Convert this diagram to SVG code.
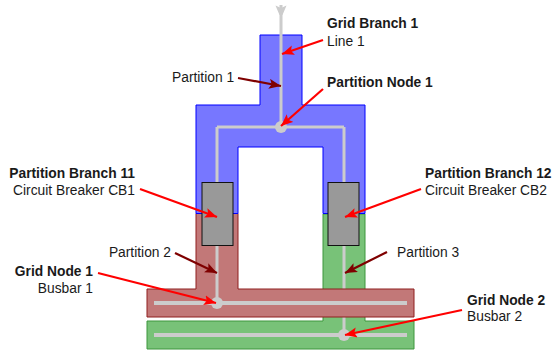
<svg xmlns="http://www.w3.org/2000/svg" width="554" height="352" viewBox="0 0 554 352">
<style>
text{font-family:"Liberation Sans",Arial,sans-serif;font-size:13.8px;fill:#1a1a1a}
.b{font-weight:bold}.e{text-anchor:end}
.wire{fill:none;stroke:#cccccc;stroke-width:3}
.bus{fill:none;stroke:#cccccc;stroke-width:4}
.dot{fill:#cccccc}
.cb{fill:#999999;stroke:#111111;stroke-width:1}
.red{stroke:#ff0000;stroke-width:2.2;fill:none;marker-end:url(#ar)}
.dark{stroke:#7f0000;stroke-width:2.2;fill:none;marker-end:url(#ad)}
</style>
<defs>
<marker id="ar" markerUnits="userSpaceOnUse" markerWidth="14" markerHeight="12" refX="12" refY="5" orient="auto"><path d="M0 0L12 5L0 10L2.500 5Z" fill="#ff0000"/></marker>
<marker id="ad" markerUnits="userSpaceOnUse" markerWidth="14" markerHeight="12" refX="12" refY="5" orient="auto"><path d="M0 0L12 5L0 10L2.500 5Z" fill="#7f0000"/></marker>
</defs>
<g id="partition3"><path d="M323 214H365V321H414V349H147V321H323Z" fill="#78c278" stroke="#3c963c" stroke-width="1"/></g>
<g id="wires-lower">
<path class="wire" d="M344 200V335"/>
<path class="bus" d="M154 335H407"/>
</g>
<g id="grid-node-2-shape"><circle class="dot" cx="344" cy="335" r="6"/></g>
<g id="partition2"><path d="M196 213.500H238V289H414V317H147V289H196Z" fill="#c27878" stroke="#8f1f1f" stroke-width="1"/></g>
<g id="partition1"><path d="M260 35H302V105H365V213.500H323V147H238V213.500H196V105H260Z" fill="#7777ff" stroke="#0000ff" stroke-width="1"/></g>
<g id="wires-upper">
<path class="wire" d="M281 5V127M217 127H344M344 127V214M217 127V303"/>
<path class="bus" d="M154 303H407"/>
<path class="dot" d="M275.500 5.500L281 8L286.500 5.500L282.500 15H279.500Z"/>
</g>
<g id="grid-node-1-shape"><circle class="dot" cx="217" cy="303" r="6"/></g>
<g id="partition-node-1-shape"><circle class="dot" cx="281" cy="127" r="6"/></g>
<g id="cb1"><rect class="cb" x="202" y="182.500" width="31" height="63"/></g>
<g id="cb2"><rect class="cb" x="328" y="182.500" width="31" height="63"/></g>
<g id="connectors">
<path class="red" d="M323 40L282 54"/>
<path class="dark" d="M238 78L281 86"/>
<path class="red" d="M323 89L281 126"/>
<path class="red" d="M140 189L217 217"/>
<path class="red" d="M421 189L345 217"/>
<path class="dark" d="M175 253L217 273"/>
<path class="dark" d="M387 252L345 273"/>
<path class="red" d="M98 273L216 303"/>
<path class="red" d="M462 310L345 335"/>
</g>
<g id="labels">
<text class="b" x="327" y="28">Grid Branch 1</text>
<text x="327" y="46">Line 1</text>
<text x="172" y="82">Partition 1</text>
<text class="b" x="327" y="87">Partition Node 1</text>
<text class="b e" x="135" y="178">Partition Branch 11</text>
<text class="e" x="135" y="195">Circuit Breaker CB1</text>
<text class="b" x="425" y="178">Partition Branch 12</text>
<text x="425" y="195">Circuit Breaker CB2</text>
<text class="e" x="171" y="257">Partition 2</text>
<text x="397" y="257">Partition 3</text>
<text class="b e" x="93" y="276">Grid Node 1</text>
<text class="e" x="93" y="293">Busbar 1</text>
<text class="b" x="467" y="305">Grid Node 2</text>
<text x="467" y="321">Busbar 2</text>
</g>
</svg>
